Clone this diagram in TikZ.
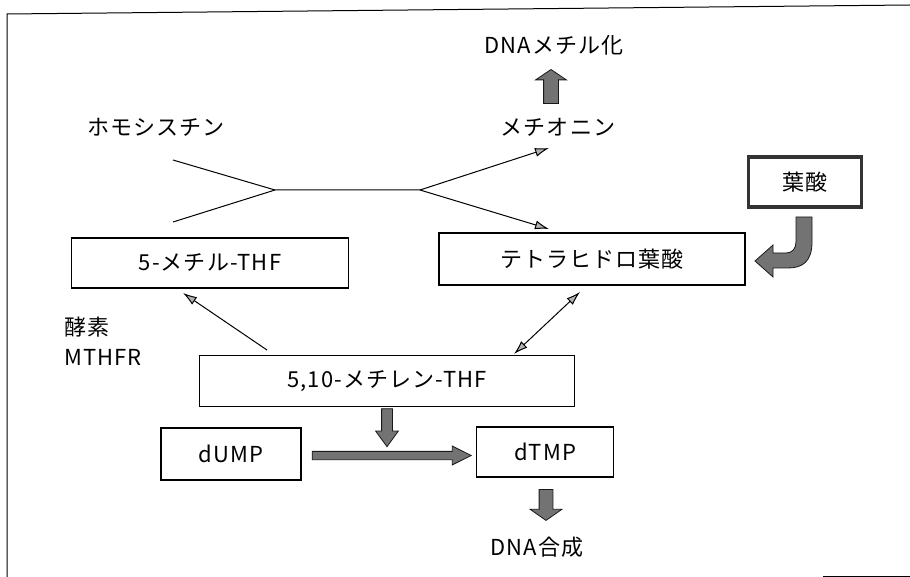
\documentclass[tikz,border=0pt]{standalone}
\usepackage{fontspec}
\setmainfont[LetterSpace=5]{Noto Sans CJK JP}
\usepackage{tikz}
\usetikzlibrary{arrows.meta,shapes.arrows,calc}
\usepackage{xcolor}

\begin{document}
\begin{tikzpicture}[
  x=1pt,y=-1pt,
  >={Latex[length=14pt,width=9pt,fill=gray!60]},
  every node/.style={font=\fontsize{22}{25}\selectfont},
  lbl/.style={inner sep=0pt},
  box/.style={draw,line width=1.1pt,minimum width=#1,inner sep=0pt},
  thin/.style={line width=1pt,->},
  fat/.style={single arrow,draw=black!90,fill=black!55,line width=0.8pt,inner xsep=0pt,inner ysep=#1,single arrow head indent=0pt}
  ]
\useasboundingbox (0,0) rectangle (910,577);
\draw[line width=1pt] (7,577) -- (7,14) -- (910,5);                 % frame
\draw[line width=1pt] (823,576) -- (910,576);
% texts
\node[lbl] (dnamet) at (554,45) {DNAメチル化};
\node[lbl] (met) at (558,127) {メチオニン};
\node[lbl] (hcy) at (156,127) {ホモシスチン};
\node[lbl,anchor=west] (enz) at (64,327) {酵素};
\node[lbl,anchor=west] (mthfr) at (64,357) {MTHFR};
\node[lbl] (dnasyn) at (537,547) {DNA合成};
% boxes
\node[draw=black!80,line width=3.5pt,minimum width=113pt,minimum height=50pt] (folate) at (805,182) {葉酸};
\node[box=306pt,minimum height=52pt] (thf) at (592,259) {テトラヒドロ葉酸};
\node[box=277pt,minimum height=50pt] (mthf) at (210,263) {5-メチル-THF};
\node[box=375pt,minimum height=51pt] (mlthf) at (387,381) {5,10-メチレン-THF};
\node[box=140pt,minimum height=52pt] (dump) at (231,454) {dUMP};
\node[box=137pt,minimum height=50pt] (dtmp) at (545,452) {dTMP};
% branching lines
\coordinate (hcy in) at (173,160);
\coordinate (mthf out) at (173,222);
\coordinate (j1) at (275,190);
\coordinate (j2) at (420,190);
\coordinate (met in) at (549,148);
\coordinate (thf in) at (549,229);
\draw[line width=1pt] (hcy in) -- (j1) -- (j2);
\draw[line width=1pt] (mthf out) -- (j1);
\draw[thin] (j2) -- (met in);
\draw[thin] (j2) -- (thf in);
\coordinate (ml a) at (267,350);
\coordinate (mthf in) at (183,293);
\coordinate (thf b) at (580,292);
\coordinate (ml b) at (514,354);
\draw[thin] (ml a) -- (mthf in);
\draw[thin,<->] (ml b) -- (thf b);
% fat arrows
\node[fat=7pt,rotate=90,minimum height=34pt,single arrow head extend=8pt,single arrow tip angle=112] (up) at (551,89) {};
\node[fat=5pt,rotate=-90,minimum height=38pt,single arrow head extend=6pt,single arrow tip angle=72] (down1) at (387,424) {};
\node[fat=3.75pt,minimum height=159pt,single arrow head extend=5.25pt,single arrow tip angle=53] (right) at (387.5,455.5) {};
\node[fat=6.5pt,rotate=-90,minimum height=31pt,single arrow head extend=9pt,single arrow tip angle=110] (down2) at (546,502.5) {};
% curved arrow from folate
\draw[draw=black!90,fill=black!55,line width=0.8pt]
  (796,217) -- (812,217) -- (812,242) .. controls (812,262) and (802,268) .. (788,268)
  -- (773,268) -- (773,277) -- (755,261) -- (773,245) -- (773,253) -- (786,253)
  .. controls (792,253) and (796,249) .. (796,242) -- cycle;
\end{tikzpicture}
\end{document}
